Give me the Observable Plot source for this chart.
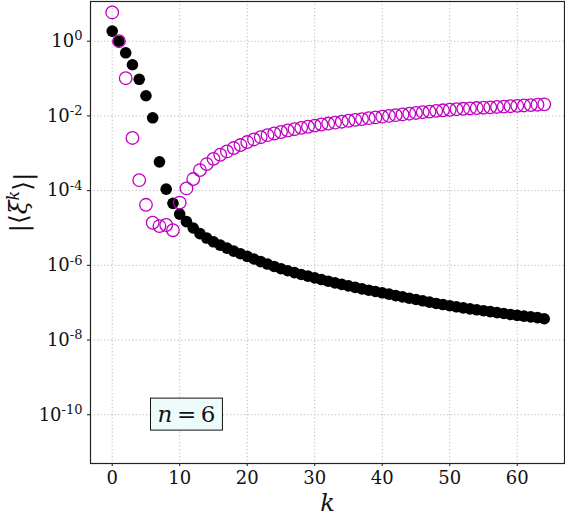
<!DOCTYPE html>
<html><head><meta charset="utf-8">
<script src="https://cdn.jsdelivr.net/npm/d3@7"></script>
<script src="https://cdn.jsdelivr.net/npm/@observablehq/plot@0.6"></script>
<style>body{margin:0;background:#fff}</style>
</head><body><div id="chart"></div>
<script>
// k index
const kValues = [0,1,2,3,4,5,6,7,8,9,10,11,12,13,14,15,16,17,18,19,20,21,22,23,24,25,26,27,28,29,30,31,32,33,34,35,36,37,38,39,40,41,42,43,44,45,46,47,48,49,50,51,52,53,54,55,56,57,58,59,60,61,62,63,64];
// log10 |<xi^k>| , black filled series
const blackLog10 = [0.27,0.00,-0.31,-0.63,-1.02,-1.46,-2.05,-3.23,-3.96,-4.34,
  -4.63,-4.83,-5.00,-5.15,-5.27,-5.37,-5.46,-5.54,-5.62,-5.69,
  -5.76,-5.83,-5.90,-5.965,-6.03,-6.09,-6.145,-6.195,-6.245,-6.29,
  -6.335,-6.38,-6.425,-6.47,-6.51,-6.55,-6.59,-6.63,-6.665,-6.70,
  -6.735,-6.77,-6.81,-6.845,-6.88,-6.915,-6.95,-6.985,-7.02,-7.05,
  -7.08,-7.11,-7.14,-7.165,-7.19,-7.215,-7.24,-7.265,-7.29,-7.315,
  -7.34,-7.36,-7.38,-7.40,-7.43];
// log10 |<xi^k>| , magenta open series
const magentaLog10 = [0.77,0.00,-0.99,-2.59,-3.72,-4.38,-4.86,-4.95,-4.92,-5.06,
  -4.32,-3.94,-3.69,-3.45,-3.29,-3.15,-3.04,-2.95,-2.86,-2.78,
  -2.70,-2.63,-2.57,-2.515,-2.47,-2.43,-2.39,-2.355,-2.32,-2.29,
  -2.26,-2.23,-2.205,-2.18,-2.155,-2.13,-2.105,-2.085,-2.06,-2.04,
  -2.02,-2.00,-1.98,-1.96,-1.94,-1.92,-1.90,-1.885,-1.865,-1.85,
  -1.835,-1.82,-1.81,-1.80,-1.79,-1.78,-1.77,-1.76,-1.75,-1.74,
  -1.73,-1.72,-1.71,-1.70,-1.69];
const xTicks = [0,10,20,30,40,50,60];
const yTickExponents = [0,-2,-4,-6,-8,-10];
const yTicks = yTickExponents.map(e => Math.pow(10, e));
const annotation = {k: 11, value: 1e-10, label: "n = 6"};
const yLabel = "|⟨ξk⟩|";
const xLabel = "k";

const black = kValues.map((k, i) => ({k, v: Math.pow(10, blackLog10[i])}));
const magenta = kValues.map((k, i) => ({k, v: Math.pow(10, magentaLog10[i])}));

const grid = {stroke: "#b5b5b5", strokeDasharray: "1.3,2.2", strokeWidth: 0.9};

const svg = Plot.plot({
  width: 565, height: 518,
  marginLeft: 90, marginRight: 1, marginTop: 1, marginBottom: 55,
  style: {fontFamily: "'DejaVu Serif', serif", fontSize: "18px", color: "#111", background: "#fff", overflow: "visible"},
  x: {domain: [-3.215, 67.0], ticks: xTicks, tickSize: 3, tickPadding: 5, tickFormat: d => String(d), label: null},
  y: {type: "log", domain: [Math.pow(10, -11.305), Math.pow(10, 1.063)], ticks: yTicks, tickSize: 3, tickPadding: 5,
      tickFormat: d => "10^" + Math.round(Math.log10(d)), label: null},
  marks: [
    Plot.ruleX(xTicks, grid),
    Plot.ruleY(yTicks, grid),
    Plot.dot(black, {x: "k", y: "v", r: 5.8, fill: "#000", stroke: "none"}),
    Plot.dot(magenta, {x: "k", y: "v", r: 6.3, fill: "none", stroke: "#c000c0", strokeWidth: 1.3}),
    Plot.text([annotation], {x: "k", y: "value", text: d => d.label, fontSize: 23, fill: "#111"}),
    Plot.text([yLabel], {text: d => d, frameAnchor: "left", dx: -72, rotate: -90, fontSize: 25, fill: "#111"}),
    Plot.text([xLabel], {text: d => d, frameAnchor: "bottom", dy: 47, fontSize: 24, fontStyle: "italic", fill: "#111"}),
    Plot.frame({stroke: "#222", strokeWidth: 1.2})
  ]
});
document.getElementById("chart").appendChild(svg);

const NS = "http://www.w3.org/2000/svg";
function tspan(txt, attrs) {
  const s = document.createElementNS(NS, "tspan");
  s.textContent = txt;
  for (const [a, v] of Object.entries(attrs || {})) s.setAttribute(a, v);
  return s;
}
svg.querySelectorAll("text").forEach(t => {
  const txt = t.textContent;
  const m = /^10\^(-?\d+)$/.exec(txt);
  if (m) {
    t.textContent = "10";
    t.appendChild(tspan(m[1], {dy: "-0.5em", "font-size": "13"}));
  } else if (txt === annotation.label) {
    t.textContent = "";
    t.appendChild(tspan("n", {"font-style": "italic"}));
    t.appendChild(tspan("\u2009=\u20096"));
    const b = t.getBBox();
    const r = document.createElementNS(NS, "rect");
    r.setAttribute("x", b.x - 7); r.setAttribute("y", b.y - 3);
    r.setAttribute("width", b.width + 14); r.setAttribute("height", b.height + 6);
    r.setAttribute("fill", "#eefbfb"); r.setAttribute("stroke", "#111"); r.setAttribute("stroke-width", "1");
    const tr = t.getAttribute("transform");
    if (tr) r.setAttribute("transform", tr);
    t.parentNode.insertBefore(r, t);
  } else if (txt === yLabel) {
    t.textContent = "";
    t.appendChild(tspan("|⟨"));
    t.appendChild(tspan("ξ", {"font-style": "italic"}));
    t.appendChild(tspan("k", {"font-style": "italic", "font-size": "16", dy: "-0.5em"}));
    t.appendChild(tspan("⟩|", {dy: "0.5em"}));
  }
});
</script>
</body></html>
